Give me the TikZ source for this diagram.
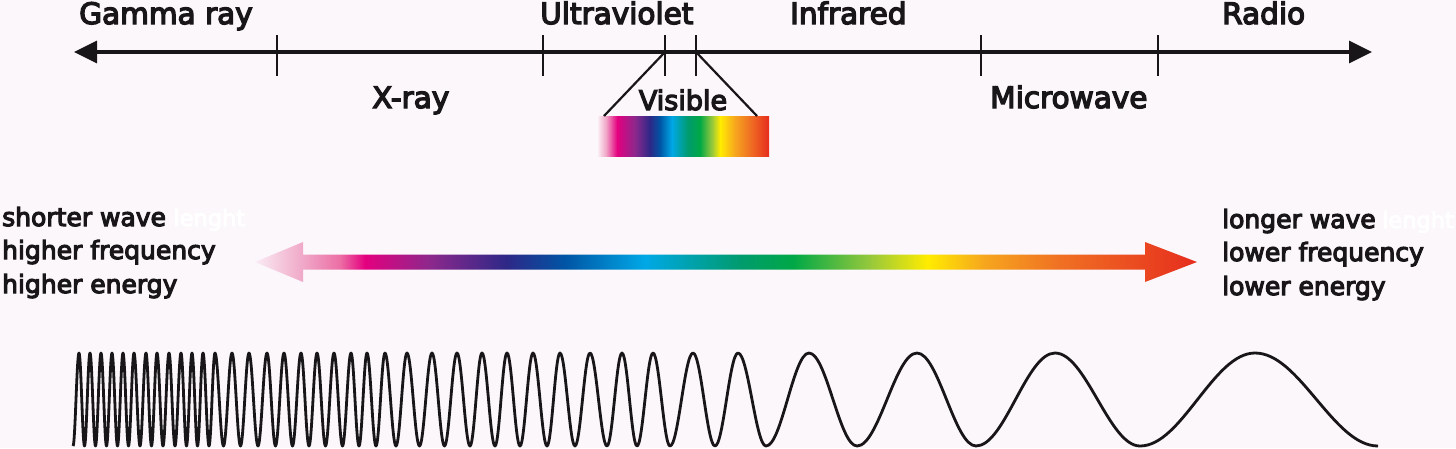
\documentclass[tikz,border=0pt]{standalone}
\usepackage{fontspec}
\usetikzlibrary{arrows.meta}
\newfontfamily\lblfont{DejaVu Sans}[FakeBold=4.5]
\definecolor{bgc}{RGB}{251,247,251}
\definecolor{txt}{RGB}{24,22,24}
\definecolor{a0}{RGB}{250,236,243}
\definecolor{a1}{RGB}{240,168,200}
\definecolor{a2}{RGB}{236,110,165}
\definecolor{a3}{RGB}{228,0,127}
\definecolor{a4}{RGB}{140,40,140}
\definecolor{a5}{RGB}{45,40,135}
\definecolor{a6}{RGB}{0,85,165}
\definecolor{a7}{RGB}{0,168,230}
\definecolor{a8}{RGB}{0,155,110}
\definecolor{a9}{RGB}{0,168,70}
\definecolor{a10}{RGB}{150,200,60}
\definecolor{a11}{RGB}{255,236,0}
\definecolor{a12}{RGB}{246,165,30}
\definecolor{a13}{RGB}{240,112,35}
\definecolor{a14}{RGB}{230,45,30}
\pgfdeclarehorizontalshading{specarrow}{100bp}{color(0bp)=(a0); color(25bp)=(a0); color(27.55bp)=(a1); color(29.51bp)=(a2); color(30.84bp)=(a3); color(34.29bp)=(a4); color(38.38bp)=(a5); color(41.45bp)=(a6); color(45.7bp)=(a7); color(50.74bp)=(a8); color(53.56bp)=(a9); color(57.64bp)=(a10); color(60.67bp)=(a11); color(63.75bp)=(a12); color(67.73bp)=(a13); color(75bp)=(a14); color(100bp)=(a14)}
\pgfdeclarehorizontalshading{specbar}{100bp}{color(0bp)=(a0); color(25bp)=(a0); color(27.3bp)=(a1); color(30.6bp)=(a3); color(35.8bp)=(a4); color(40.2bp)=(a5); color(43.1bp)=(a6); color(46.6bp)=(a7); color(51.3bp)=(a8); color(54.8bp)=(a9); color(58.3bp)=(a10); color(60.7bp)=(a11); color(65.1bp)=(a12); color(69.4bp)=(a13); color(75bp)=(a14); color(100bp)=(a14)}
\begin{document}
\begin{tikzpicture}[x=1pt,y=-1pt,
  lbl/.style={font={\lblfont\fontsize{29.5pt}{30pt}\selectfont}, inner sep=0pt, text=txt, anchor=base west},
  vislbl/.style={font={\lblfont\fontsize{27pt}{28pt}\selectfont}, inner sep=0pt, text=txt, anchor=base},
  side/.style={font={\lblfont\fontsize{25pt}{26pt}\selectfont}, inner sep=0pt, text=txt, anchor=base west},
  ghost/.style={font={\lblfont\fontsize{22.5pt}{24pt}\selectfont}, inner sep=0pt, text=white, anchor=base west},
  axis/.style={line width=3.4pt, draw=txt, {Triangle[length=23pt,width=22pt]}-{Triangle[length=23pt,width=22pt]}},
  tickmark/.style={line width=2.4pt, draw=txt},
  zoomline/.style={line width=2.2pt, draw=txt},
  wave/.style={line width=2.8pt, draw=txt, line join=round}]
\useasboundingbox (0,0) rectangle (1456,448);
\fill[bgc] (0,0) rectangle (1456,448);

% top axis
\coordinate (lend) at (74,52);
\coordinate (rend) at (1372,52);
\draw[axis] (lend) -- (rend);
\foreach \t/\x in {t1/277,t2/543,t3/665,t4/696,t5/981,t6/1158}{
  \coordinate (\t) at (\x,52);
  \draw[tickmark] (\x,35) -- (\x,76);
}

% labels
\node[lbl] (gamma) at (79,24) {Gamma ray};
\node[lbl] (uv) at (540,24) {Ultraviolet};
\node[lbl] (ir) at (790,24) {Infrared};
\node[lbl] (radio) at (1222,24) {Radio};
\node[lbl] (xray) at (372,108) {X-ray};
\node[lbl] (micro) at (990,108) {Microwave};
\node[vislbl] (vis) at (683,110) {Visible};

% visible bar
\shade[shading=specbar] (598,116) rectangle (769,156);
\coordinate (barl) at (604,116);
\coordinate (barr) at (757,116);
\draw[zoomline] (t3) -- (barl);
\draw[zoomline] (t4) -- (barr);

% side texts
\node[side] (s1) at (2,226) {shorter wave};
\node[ghost] (s1g) at ([xshift=7pt]s1.base east) {lenght};
\node[side] (s2) at (2,259) {higher frequency};
\node[side] (s3) at (2,293) {higher energy};
\node[side] (l1) at (1222,228) {longer wave};
\node[ghost] (l1g) at ([xshift=6pt]l1.base east) {lenght};
\node[side] (l2) at (1222,261) {lower frequency};
\node[side] (l3) at (1222,295) {lower energy};

% gradient arrow
\shade[shading=specarrow] (255,262) -- (303,242) -- (303,254.5) -- (1145,254.5) -- (1145,242) -- (1197,262) -- (1145,282) -- (1145,269.5) -- (303,269.5) -- (303,282) -- cycle;

% wave
\draw[wave] (73,446) foreach \x [remember=\x as \lx (initially 73), count=\i] in {79,84.5,90,95.5,101,106.5,112,117.5,123,128.5,134,140,146,151.5,157,163,169,175,181,186.5,192,197.5,203,209,215,223.5,232,240.5,249,258,267,275.5,284,292.5,301,309,317,325.5,334,342.5,351,359,367,376,385,396,407,419.5,432,444.5,457,470,482,495,507,520,533,547,560,575,590,607,622,637,653,670,693,715,738,766,809,857,917,976,1055,1140,1255,1378} { cos ({(\lx+\x)/2},399.5) sin (\x,{399.5+46.5*cos(180*\i)}) };
\end{tikzpicture}
\end{document}
